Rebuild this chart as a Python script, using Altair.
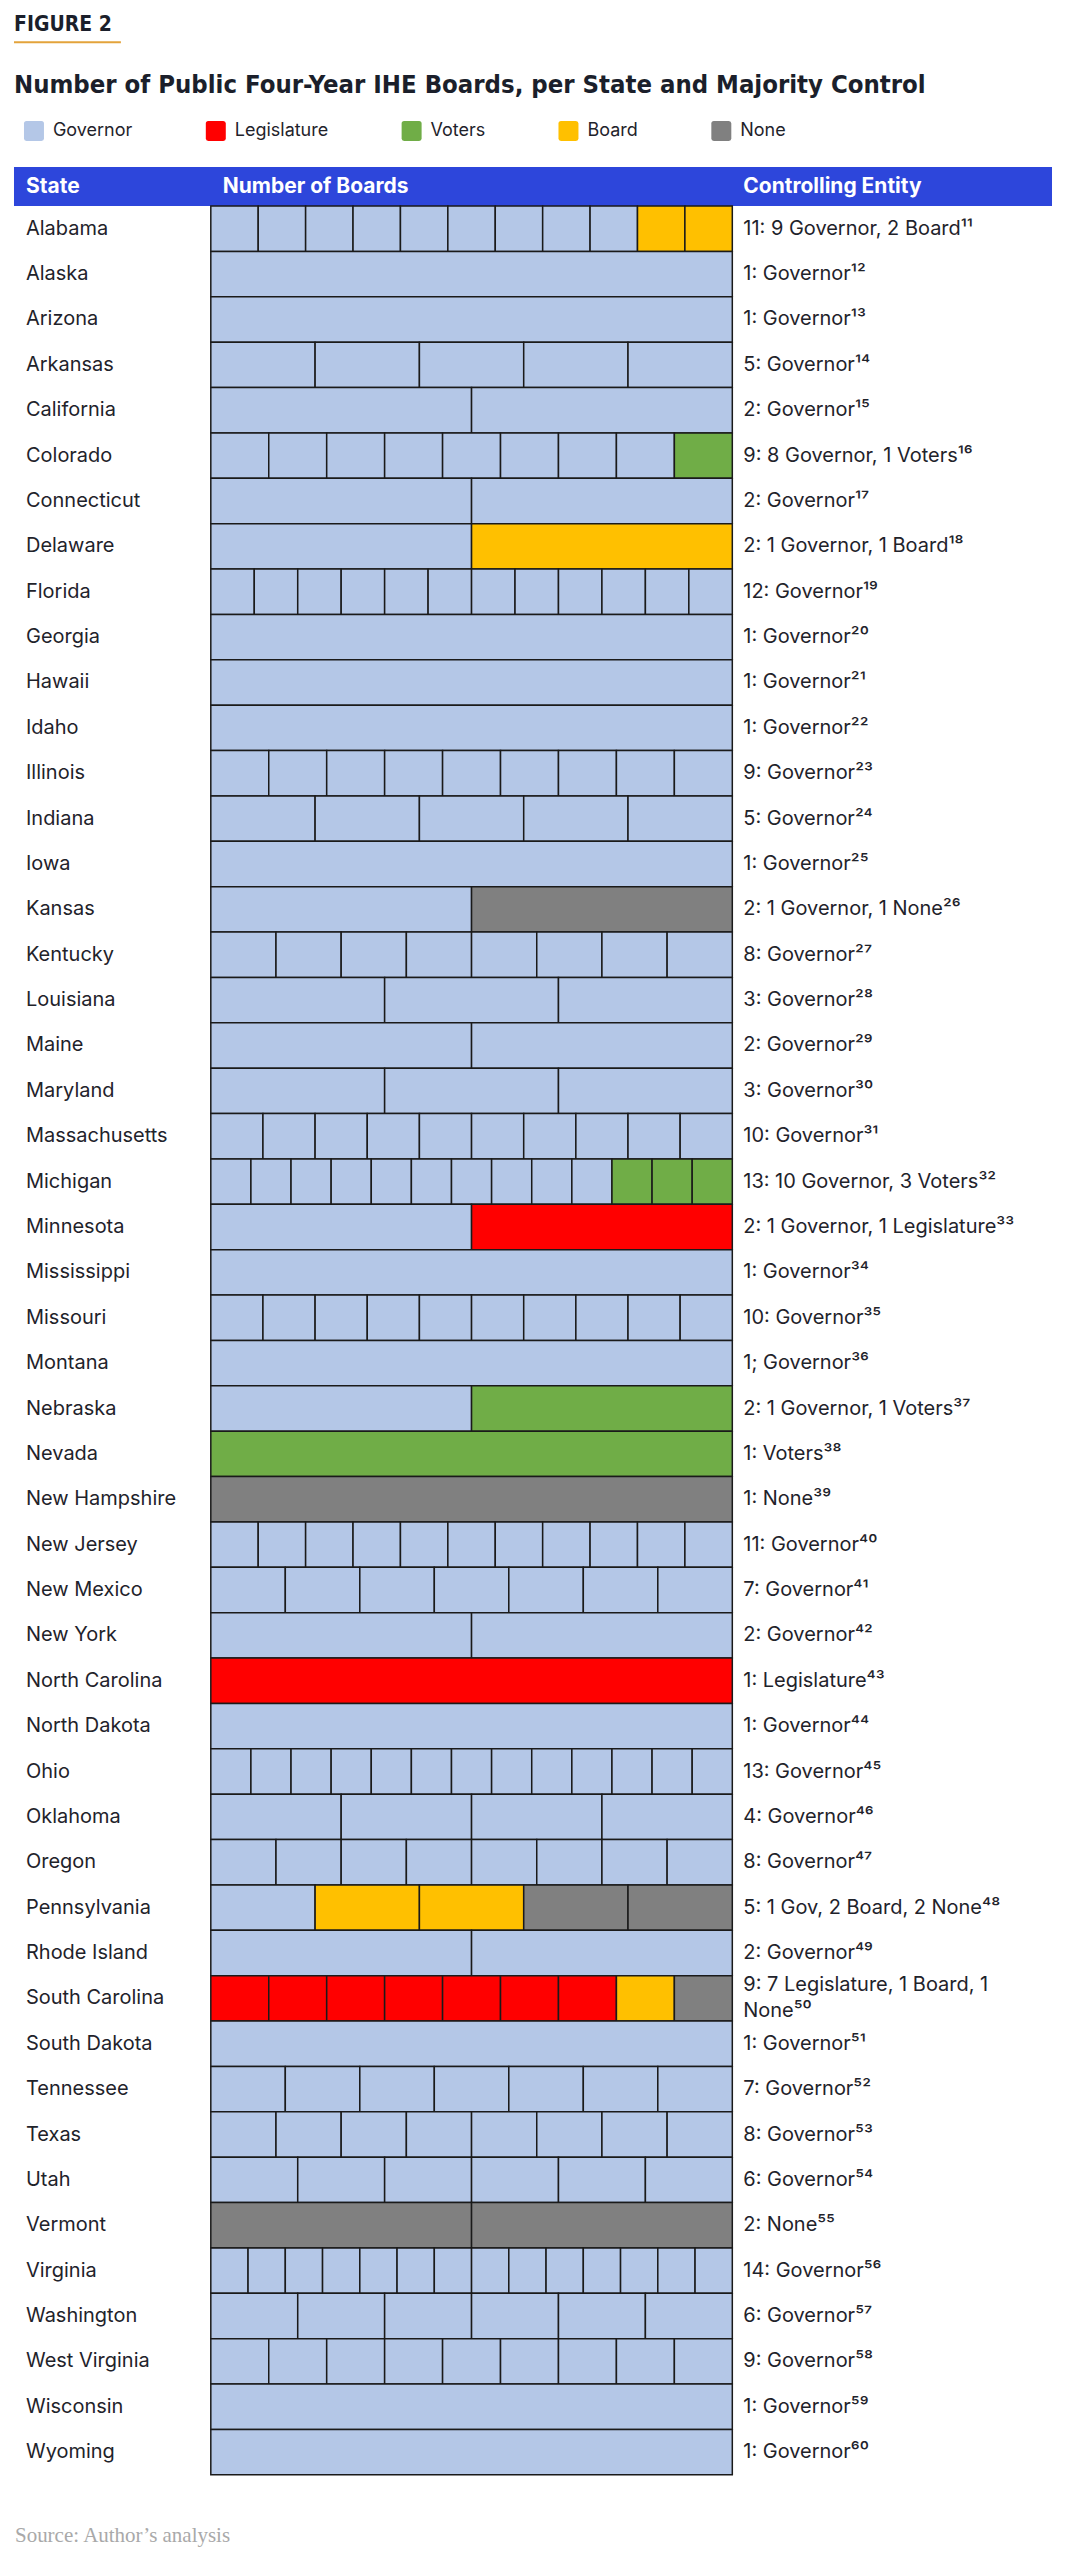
import altair as alt
import pandas as pd

# ---------------- data ----------------
states = ["Alabama", "Alaska", "Arizona", "Arkansas", "California", "Colorado", "Connecticut",
          "Delaware", "Florida", "Georgia", "Hawaii", "Idaho", "Illinois", "Indiana", "Iowa",
          "Kansas", "Kentucky", "Louisiana", "Maine", "Maryland", "Massachusetts", "Michigan",
          "Minnesota", "Mississippi", "Missouri", "Montana", "Nebraska", "Nevada", "New Hampshire",
          "New Jersey", "New Mexico", "New York", "North Carolina", "North Dakota", "Ohio",
          "Oklahoma", "Oregon", "Pennsylvania", "Rhode Island", "South Carolina", "South Dakota",
          "Tennessee", "Texas", "Utah", "Vermont", "Virginia", "Washington", "West Virginia",
          "Wisconsin", "Wyoming"]
governor = [9, 1, 1, 5, 2, 8, 2, 1, 12, 1, 1, 1, 9, 5, 1, 1, 8, 3, 2, 3, 10, 10, 1, 1, 10, 1, 1, 0, 0,
            11, 7, 2, 0, 1, 13, 4, 8, 1, 2, 0, 1, 7, 8, 6, 0, 14, 6, 9, 1, 1]
legislature = [0, 0, 0, 0, 0, 0, 0, 0, 0, 0, 0, 0, 0, 0, 0, 0, 0, 0, 0, 0, 0, 0, 1, 0, 0, 0, 0, 0, 0,
               0, 0, 0, 1, 0, 0, 0, 0, 0, 0, 7, 0, 0, 0, 0, 0, 0, 0, 0, 0, 0]
voters = [0, 0, 0, 0, 0, 1, 0, 0, 0, 0, 0, 0, 0, 0, 0, 0, 0, 0, 0, 0, 0, 3, 0, 0, 0, 0, 1, 1, 0,
          0, 0, 0, 0, 0, 0, 0, 0, 0, 0, 0, 0, 0, 0, 0, 0, 0, 0, 0, 0, 0]
board = [2, 0, 0, 0, 0, 0, 0, 1, 0, 0, 0, 0, 0, 0, 0, 0, 0, 0, 0, 0, 0, 0, 0, 0, 0, 0, 0, 0, 0,
         0, 0, 0, 0, 0, 0, 0, 0, 2, 0, 1, 0, 0, 0, 0, 0, 0, 0, 0, 0, 0]
none_ = [0, 0, 0, 0, 0, 0, 0, 0, 0, 0, 0, 0, 0, 0, 0, 1, 0, 0, 0, 0, 0, 0, 0, 0, 0, 0, 0, 0, 1,
         0, 0, 0, 0, 0, 0, 0, 0, 2, 0, 1, 0, 0, 0, 0, 2, 0, 0, 0, 0, 0]
entity_labels = ["11: 9 Governor, 2 Board", "1: Governor", "1: Governor", "5: Governor", "2: Governor",
                 "9: 8 Governor, 1 Voters", "2: Governor", "2: 1 Governor, 1 Board", "12: Governor",
                 "1: Governor", "1: Governor", "1: Governor", "9: Governor", "5: Governor", "1: Governor",
                 "2: 1 Governor, 1 None", "8: Governor", "3: Governor", "2: Governor", "3: Governor",
                 "10: Governor", "13: 10 Governor, 3 Voters", "2: 1 Governor, 1 Legislature",
                 "1: Governor", "10: Governor", "1; Governor", "2: 1 Governor, 1 Voters", "1: Voters",
                 "1: None", "11: Governor", "7: Governor", "2: Governor", "1: Legislature", "1: Governor",
                 "13: Governor", "4: Governor", "8: Governor", "5: 1 Gov, 2 Board, 2 None", "2: Governor",
                 "9: 7 Legislature, 1 Board, 1\nNone", "1: Governor", "7: Governor", "8: Governor",
                 "6: Governor", "2: None", "14: Governor", "6: Governor", "9: Governor", "1: Governor",
                 "1: Governor"]
footnotes = list(range(11, 61))

entities = ["Governor", "Legislature", "Voters", "Board", "None"]
colors = ["#B4C7E7", "#FF0000", "#70AD47", "#FFC000", "#808080"]

# ---------------- tables ----------------
SUP = str.maketrans("0123456789", "⁰¹²³⁴⁵⁶⁷⁸⁹")
rows = []
for i, s in enumerate(states):
    seq = 0
    for ent, counts in zip(entities, [governor, legislature, voters, board, none_]):
        for _ in range(counts[i]):
            rows.append({"state": s, "entity": ent, "one": 1, "seq": seq})
            seq += 1
seg_df = pd.DataFrame(rows)
lab_df = pd.DataFrame({
    "state": states,
    "label": [l + str(f).translate(SUP) for l, f in zip(entity_labels, footnotes)],
})

# ---------------- layout ----------------
PLOT_W = 1039
ROW_H = 45.42
PLOT_H = round(len(states) * ROW_H)
BAR_L, BAR_R = 197, 719
span = BAR_R - BAR_L
x_dom = [-BAR_L / span, (PLOT_W - BAR_L) / span]

BODY = "Inter"
COND = "Liberation Sans Narrow, DejaVu Sans Condensed, Roboto"
TXT = "#1f232b"
BODY_SIZE = 20
LINE_H = 26

yenc = alt.Y("state:N", sort=states, axis=None,
             scale=alt.Scale(domain=states, paddingInner=0, paddingOuter=0))

rounded = "M-0.75,-1H0.75Q1,-1,1,-0.75V0.75Q1,1,0.75,1H-0.75Q-1,1,-1,0.75V-0.75Q-1,-1,-0.75,-1Z"

bars = alt.Chart(seg_df).mark_bar(stroke="#1a1a1a", strokeWidth=1.5).encode(
    x=alt.X("one:Q", stack="normalize", axis=None,
            scale=alt.Scale(domain=x_dom, nice=False, zero=False)),
    y=yenc,
    color=alt.Color("entity:N", scale=alt.Scale(domain=entities, range=colors),
                    legend=alt.Legend(orient="none", legendX=10, legendY=-85, direction="horizontal",
                                      title=None, symbolType=rounded, symbolSize=400,
                                      symbolStrokeWidth=0, symbolOpacity=1,
                                      labelFont=BODY, labelFontSize=18, labelColor=TXT,
                                      labelOffset=9, columnPadding=73)),
    order=alt.Order("seq:Q"),
)

state_txt = alt.Chart(lab_df).mark_text(align="left", baseline="middle", font=BODY,
                                        fontSize=BODY_SIZE, color=TXT).encode(
    x=alt.value(12), y=yenc, text="state:N")

ent_txt = alt.Chart(lab_df).transform_filter(
    "indexof(datum.label, '\\n') < 0"
).mark_text(align="left", baseline="middle", font=BODY, fontSize=BODY_SIZE, color=TXT).encode(
    x=alt.value(730), y=yenc, text="label:N")

ent_txt2 = alt.Chart(lab_df).transform_filter(
    "indexof(datum.label, '\\n') >= 0"
).mark_text(align="left", baseline="middle", font=BODY, fontSize=BODY_SIZE, color=TXT,
            lineBreak="\n", lineHeight=LINE_H, dy=-LINE_H / 2).encode(
    x=alt.value(730), y=yenc, text="label:N")

header_rect = alt.Chart(pd.DataFrame({"h": [0]})).mark_rect(color="#2D46DB").encode(
    x=alt.value(0), x2=alt.value(PLOT_W), y=alt.value(-39), y2=alt.value(0))


def head(text, xpos):
    return alt.Chart(pd.DataFrame({"t": [text]})).mark_text(
        align="left", baseline="middle", font=BODY, fontSize=21, fontWeight="bold",
        color="white").encode(x=alt.value(xpos), y=alt.value(-19.5), text="t:N")


fig_txt = alt.Chart(pd.DataFrame({"t": ["FIGURE 2"]})).mark_text(
    align="left", baseline="middle", font=COND, fontSize=21, fontWeight="bold",
    color="#1b1f2b").encode(x=alt.value(0), y=alt.value(-181), text="t:N")

fig_rule = alt.Chart(pd.DataFrame({"t": [0]})).mark_rule(color="#E3A33B", strokeWidth=2).encode(
    x=alt.value(0), x2=alt.value(107), y=alt.value(-164))

title_txt = alt.Chart(pd.DataFrame({"t": ["Number of Public Four-Year IHE Boards, per State and Majority Control"]})).mark_text(
    align="left", baseline="middle", font=COND, fontSize=25.5, fontWeight="bold",
    color="#1b1f2b").encode(x=alt.value(0), y=alt.value(-121), text="t:N")

source_txt = alt.Chart(pd.DataFrame({"t": ["Source: Author’s analysis"]})).mark_text(
    align="left", baseline="middle", font="Liberation Serif", fontSize=21,
    color="#a9a9a9").encode(x=alt.value(1), y=alt.value(PLOT_H + 61), text="t:N")

chart = alt.layer(
    header_rect, head("State", 12), head("Number of Boards", 209), head("Controlling Entity", 730),
    bars, state_txt, ent_txt, ent_txt2, fig_txt, fig_rule, title_txt, source_txt,
).properties(width=PLOT_W, height=PLOT_H).configure_view(stroke=None)

chart.save("out.html", embed_options={"renderer": "svg", "actions": False})
